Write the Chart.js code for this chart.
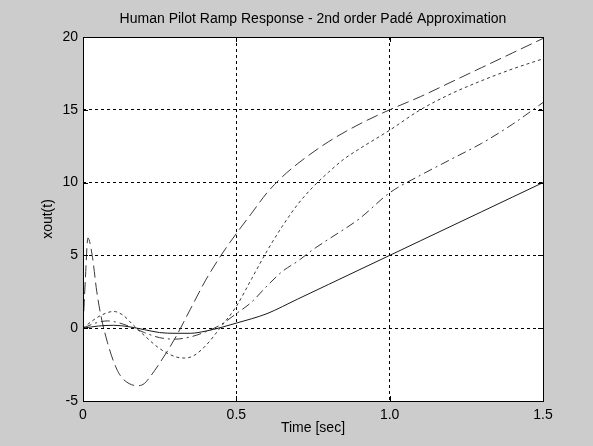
<!DOCTYPE html>
<html>
<head>
<meta charset="UTF-8">
<title>Human Pilot Ramp Response</title>
<script src="https://cdn.jsdelivr.net/npm/chart.js"></script>
<style>
    body {
        margin: 0;
        background-color: #cccccc;
    }
    #wrap {
        width: 593px;
        height: 446px;
    }
</style>
</head>
<body>
<div id="wrap"><canvas id="pilotChart" width="593" height="446"></canvas></div>
<script>
const chartTitle = 'Human Pilot Ramp Response - 2nd order Padé Approximation';

// axis ticks
const xTicks = [0, 0.5, 1, 1.5];
const yTicks = [-5, 0, 5, 10, 15, 20];

// solid curve
const tSolid = [0, 0.05, 0.1, 0.15, 0.2, 0.25, 0.3, 0.35, 0.4, 0.45, 0.5, 0.55, 0.6, 0.7, 0.8, 0.9, 1.0, 1.1, 1.2, 1.3, 1.4, 1.5];
const ySolid = [0, 0.15, 0.2, 0.1, -0.1, -0.3, -0.35, -0.35, -0.2, 0.05, 0.35, 0.65, 1.0, 2.0, 3.0, 4.0, 5.0, 6.0, 7.0, 8.0, 9.0, 10.0];

// long dashed curve
const tDash = [0, 0.008, 0.016, 0.03, 0.045, 0.06, 0.08, 0.1, 0.12, 0.15, 0.18, 0.2, 0.22, 0.25, 0.3, 0.35, 0.4, 0.45, 0.5, 0.55, 0.6, 0.65, 0.7, 0.8, 0.9, 1.0, 1.1, 1.2, 1.3, 1.4, 1.5];
const yDash = [0, 3.5, 6.2, 5.0, 2.5, 0.7, -1.0, -2.3, -3.2, -3.8, -3.95, -3.8, -3.3, -2.4, -0.7, 1.3, 3.3, 5.0, 6.5, 7.9, 9.3, 10.4, 11.3, 12.8, 14.0, 15.0, 15.9, 16.9, 17.9, 18.9, 19.9];

// dotted curve
const tDot = [0, 0.03, 0.06, 0.1, 0.13, 0.16, 0.2, 0.25, 0.3, 0.33, 0.36, 0.4, 0.45, 0.5, 0.55, 0.6, 0.65, 0.7, 0.75, 0.8, 0.85, 0.9, 1.0, 1.1, 1.2, 1.3, 1.4, 1.5];
const yDot = [0, 0.5, 0.9, 1.15, 0.9, 0.3, -0.5, -1.4, -1.95, -2.05, -1.9, -1.2, 0.1, 1.5, 3.4, 5.3, 7.0, 8.5, 9.7, 10.7, 11.6, 12.3, 13.6, 15.0, 16.1, 17.0, 17.8, 18.5];

// dash-dot curve
const tDashDot = [0, 0.04, 0.08, 0.12, 0.16, 0.2, 0.25, 0.3, 0.35, 0.4, 0.45, 0.5, 0.55, 0.6, 0.65, 0.7, 0.75, 0.8, 0.9, 1.0, 1.1, 1.2, 1.3, 1.4, 1.5];
const yDashDot = [0, 0.35, 0.5, 0.35, 0.05, -0.3, -0.65, -0.75, -0.6, -0.25, 0.25, 1.0, 1.8, 2.9, 3.9, 4.6, 5.4, 6.1, 7.5, 9.3, 10.5, 11.6, 12.7, 14.0, 15.5];

function pairs(ts, ys) {
    return ts.map((t, i) => ({ x: t, y: ys[i] }));
}

function series(ts, ys, color, dash) {
    return {
        data: pairs(ts, ys),
        borderColor: color,
        borderWidth: 1,
        borderDash: dash,
        pointRadius: 0,
        fill: false,
        cubicInterpolationMode: 'monotone'
    };
}

const font = "'Liberation Sans', Arial, sans-serif";

// white plot area, black frame, inward tick marks, title centred on the axes
const frame = {
    id: 'frame',
    beforeDraw(chart) {
        const a = chart.chartArea;
        const ctx = chart.ctx;
        ctx.save();
        ctx.fillStyle = '#ffffff';
        ctx.fillRect(a.left, a.top, a.right - a.left, a.bottom - a.top);
        ctx.restore();
    },
    afterDraw(chart) {
        const a = chart.chartArea;
        const ctx = chart.ctx;
        const xs = chart.scales.x, ys = chart.scales.y;
        ctx.save();
        ctx.strokeStyle = '#000000';
        ctx.lineWidth = 1;
        ctx.strokeRect(Math.round(a.left) + 0.5, Math.round(a.top) + 0.5,
            Math.round(a.right - a.left), Math.round(a.bottom - a.top));
        ctx.beginPath();
        xTicks.forEach(v => {
            const px = Math.round(xs.getPixelForValue(v)) + 0.5;
            ctx.moveTo(px, a.bottom); ctx.lineTo(px, a.bottom - 5);
            ctx.moveTo(px, a.top); ctx.lineTo(px, a.top + 5);
        });
        yTicks.forEach(v => {
            const py = Math.round(ys.getPixelForValue(v)) + 0.5;
            ctx.moveTo(a.left, py); ctx.lineTo(a.left + 5, py);
            ctx.moveTo(a.right, py); ctx.lineTo(a.right - 5, py);
        });
        ctx.stroke();

        ctx.fillStyle = '#000000';
        ctx.font = '14px ' + font;
        ctx.textAlign = 'center';
        ctx.textBaseline = 'middle';
        ctx.fillText(chartTitle, (a.left + a.right) / 2, 19);
        ctx.restore();
    }
};

Chart.defaults.font.family = font;
Chart.defaults.color = '#000000';

new Chart(document.getElementById('pilotChart'), {
    type: 'line',
    data: {
        datasets: [
            series(tSolid, ySolid, '#1a1a1a', []),
            series(tDash, yDash, '#3a3a3a', [12, 5]),
            series(tDot, yDot, '#3a3a3a', [3, 3]),
            series(tDashDot, yDashDot, '#3a3a3a', [9, 4, 2, 4])
        ]
    },
    options: {
        responsive: false,
        animation: false,
        layout: { padding: { left: 0, right: 50, top: 37, bottom: 0 } },
        plugins: {
            legend: { display: false },
            tooltip: { enabled: false },
            title: { display: false }
        },
        scales: {
            x: {
                type: 'linear',
                min: 0,
                max: 1.5,
                afterBuildTicks(scale) { scale.ticks = xTicks.map(v => ({ value: v })); },
                afterFit(scale) { scale.height = 45; },
                ticks: { font: { size: 14 }, padding: 6, maxRotation: 0 },
                grid: { color: '#000000', drawTicks: false },
                border: { display: false, dash: [3, 3] },
                title: {
                    display: true,
                    text: 'Time [sec]',
                    font: { size: 14 },
                    padding: { top: 0, bottom: 9.6 }
                }
            },
            y: {
                type: 'linear',
                min: -5,
                max: 20,
                afterBuildTicks(scale) { scale.ticks = yTicks.map(v => ({ value: v })); },
                afterFit(scale) { scale.width = 83; },
                ticks: { font: { size: 14 }, padding: 5 },
                grid: { color: '#000000', drawTicks: false },
                border: { display: false, dash: [3, 3] },
                title: {
                    display: true,
                    text: 'xout(t)',
                    font: { size: 14 },
                    padding: { top: 39.6, bottom: 0 }
                }
            }
        }
    },
    plugins: [frame]
});
</script>
</body>
</html>
